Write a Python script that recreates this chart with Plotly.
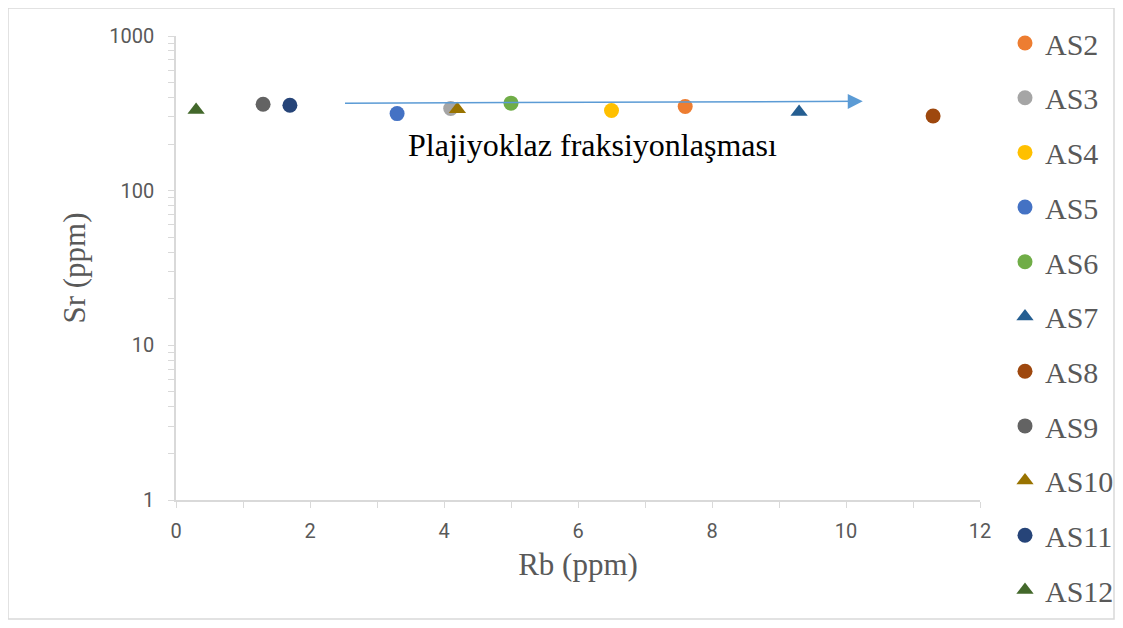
import plotly.graph_objects as go
import math

samples = ["AS2", "AS3", "AS4", "AS5", "AS6", "AS7", "AS8", "AS9", "AS10", "AS11", "AS12"]
rb = [7.6, 4.1, 6.5, 3.3, 5.0, 9.3, 11.3, 1.3, 4.2, 1.7, 0.3]
sr = [350, 340, 330, 315, 368, 322, 304, 362, 336, 357, 332]
symbols = ["circle", "circle", "circle", "circle", "circle", "triangle-up", "circle",
           "circle", "triangle-up", "circle", "triangle-up"]
colors = ["#ED7D31", "#A5A5A5", "#FFC000", "#4472C4", "#70AD47", "#255E91", "#9E480E",
          "#636363", "#997300", "#264478", "#43682B"]

arrow_rb = [2.5, 10.25]
arrow_sr = [368, 378]
arrow_label = "Plajiyoklaz fraksiyonlaşması"

W, H = 1107, 612
L, T = 168, 28
PW, PH = 804, 464

fig = go.Figure()
for i, s in enumerate(samples):
    fig.add_trace(go.Scatter(
        x=[rb[i]], y=[sr[i]], mode="markers", name=s, legendgroup=s,
        marker=dict(symbol=symbols[i], color=colors[i], size=15, line=dict(width=0)),
    ))

fig.add_annotation(
    x=arrow_rb[1], y=math.log10(arrow_sr[1]), ax=arrow_rb[0], ay=math.log10(arrow_sr[0]),
    xref="x", yref="y", axref="x", ayref="y", text="", showarrow=True,
    arrowhead=2, arrowsize=2, arrowwidth=1.5, arrowcolor="#5B9BD5",
)
fig.add_annotation(
    x=6.22, y=math.log10(197), xref="x", yref="y", text=arrow_label, showarrow=False,
    font=dict(family="Liberation Serif, Times New Roman, serif", size=32, color="#000000"),
)

# outer chart border
fig.add_shape(type="rect", xref="paper", yref="paper",
              x0=(0 - L) / PW, x1=(W - 1 - L) / PW,
              y0=-(H - 1 - (T + PH)) / PH, y1=(T + PH) / PH,
              line=dict(color="#D9D9D9", width=1.5), fillcolor="rgba(0,0,0,0)", layer="below")

tick_font = dict(family="Roboto, Open Sans, sans-serif", size=20, color="#595959")
title_font = dict(family="Liberation Serif, Times New Roman, serif", size=31, color="#595959")

fig.update_xaxes(
    range=[0, 12], dtick=2, tick0=0, showgrid=False, zeroline=False,
    showline=True, linecolor="#D9D9D9", linewidth=1.5,
    ticks="outside", ticklen=6, tickcolor="#D9D9D9", ticklabelstandoff=6,
    minor=dict(ticks="outside", dtick=1, ticklen=6, tickcolor="#D9D9D9", showgrid=False),
    tickfont=tick_font, title=dict(text="Rb (ppm)", font=title_font, standoff=12),
    automargin=False,
)
fig.update_yaxes(
    type="log", range=[0, 3], dtick=1, showgrid=False, zeroline=False,
    showline=True, linecolor="#D9D9D9", linewidth=1.5,
    ticks="outside", ticklen=6, tickcolor="#D9D9D9", ticklabelstandoff=10,
    minor=dict(ticks="outside", dtick="D1", ticklen=6, tickcolor="#D9D9D9", showgrid=False),
    tickfont=tick_font, title=dict(text="Sr (ppm)", font=title_font, standoff=14),
    automargin=False,
)

fig.update_layout(
    width=W, height=H,
    margin=dict(l=L, r=W - L - PW, t=T, b=H - T - PH, autoexpand=False),
    paper_bgcolor="white", plot_bgcolor="white",
    showlegend=True,
    legend=dict(
        xref="container", yref="container",
        x=997 / W, y=1 - 9 / H, xanchor="left", yanchor="top",
        font=dict(family="Liberation Serif, Times New Roman, serif", size=30, color="#595959"),
        tracegroupgap=12.7, itemwidth=30, bgcolor="rgba(0,0,0,0)", maxheight=620,
    ),
)

fig.write_html("out.html")
